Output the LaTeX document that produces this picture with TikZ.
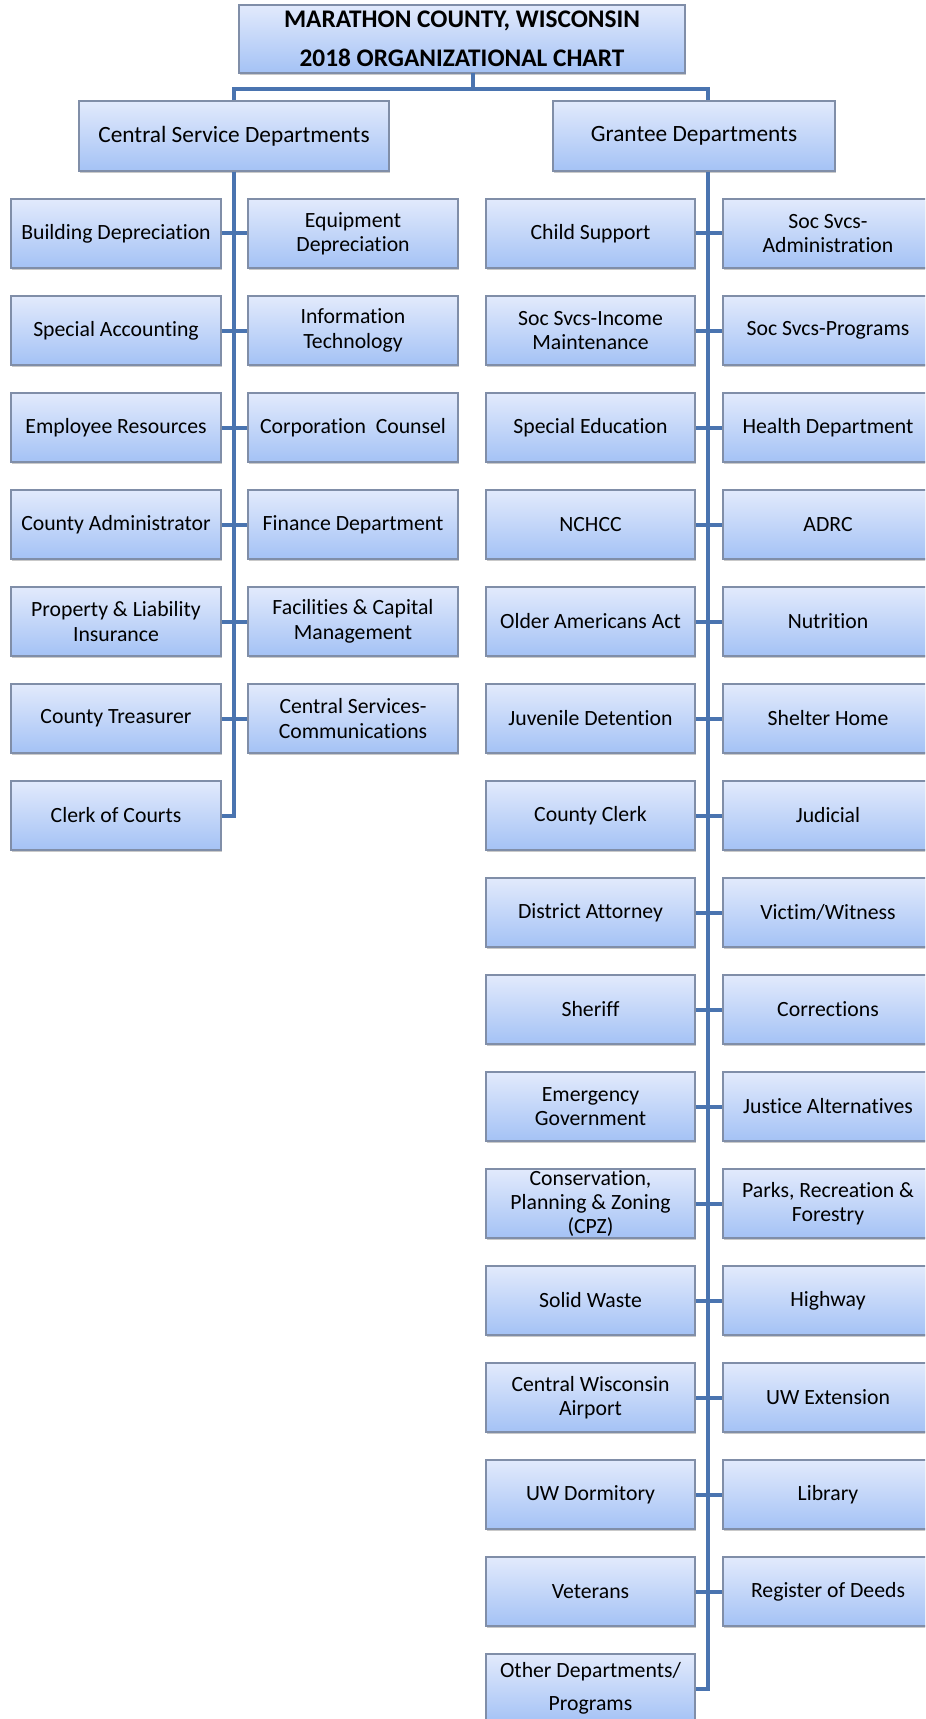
\documentclass[tikz,border=0pt]{standalone}
\usepackage{fontspec}
\setmainfont{Carlito}[Ligatures=NoCommon]
\usetikzlibrary{shadows}
\definecolor{conn}{RGB}{74,116,176}
\definecolor{boxtop}{RGB}{226,234,252}
\definecolor{boxbot}{RGB}{164,194,245}
\definecolor{boxline}{RGB}{128,142,168}
\begin{document}
\begin{tikzpicture}[x=0.75pt,y=-0.75pt,
  dept/.style={draw=boxline, line width=0.8pt, top color=boxtop, bottom color=boxbot,
    minimum width=157.5pt, minimum height=51.75pt, inner sep=0pt, align=center,
    font=\fontsize{16.3}{18.3}\selectfont,
    drop shadow={shadow xshift=0.8pt, shadow yshift=-1.6pt, opacity=0.3, fill=black!70}},
  gdept/.style={dept, minimum width=156.75pt},
  link/.style={draw=conn, line width=3pt}]
\clip (0,0) rectangle (925,1719);
% headers
\node[dept, minimum width=334.5pt, minimum height=51pt,
  font=\fontsize{19}{29}\bfseries\selectfont] (title) at (462,39)
  {MARATHON COUNTY, WISCONSIN\\2018 ORGANIZATIONAL CHART};
\node[dept, minimum width=232.5pt, minimum height=52.5pt, font=\fontsize{17.5}{20}\selectfont] (central) at (234,136) {Central Service Departments};
\node[dept, minimum width=211.5pt, minimum height=52.5pt, font=\fontsize{17.5}{20}\selectfont] (grantee) at (694,136) {Grantee Departments};
% central service departments
\node[dept] (a1) at (116,233.5) {Building Depreciation};
\node[dept] (b1) at (353,233.5) {Equipment\\Depreciation};
\node[dept] (a2) at (116,330.5) {Special Accounting};
\node[dept] (b2) at (353,330.5) {Information\\Technology};
\node[dept] (a3) at (116,427.5) {Employee Resources};
\node[dept] (b3) at (353,427.5) {Corporation\ \ Counsel};
\node[dept] (a4) at (116,524.5) {County Administrator};
\node[dept] (b4) at (353,524.5) {Finance Department};
\node[dept] (a5) at (116,621.5) {Property \& Liability\\Insurance};
\node[dept] (b5) at (353,621.5) {Facilities \& Capital\\Management};
\node[dept] (a6) at (116,718.5) {County Treasurer};
\node[dept] (b6) at (353,718.5) {Central Services-\\Communications};
\node[dept] (a7) at (116,815.5) {Clerk of Courts};
% grantee departments
\node[gdept] (g1l) at (590.5,233.5) {Child Support};
\node[dept]  (g1r) at (828,233.5) {Soc Svcs-\\Administration};
\node[gdept] (g2l) at (590.5,330.5) {Soc Svcs-Income\\Maintenance};
\node[dept]  (g2r) at (828,330.5) {Soc Svcs-Programs};
\node[gdept] (g3l) at (590.5,427.5) {Special Education};
\node[dept]  (g3r) at (828,427.5) {Health Department};
\node[gdept] (g4l) at (590.5,524.5) {NCHCC};
\node[dept]  (g4r) at (828,524.5) {ADRC};
\node[gdept] (g5l) at (590.5,621.5) {Older Americans Act};
\node[dept]  (g5r) at (828,621.5) {Nutrition};
\node[gdept] (g6l) at (590.5,718.5) {Juvenile Detention};
\node[dept]  (g6r) at (828,718.5) {Shelter Home};
\node[gdept] (g7l) at (590.5,815.5) {County Clerk};
\node[dept]  (g7r) at (828,815.5) {Judicial};
\node[gdept] (g8l) at (590.5,912.5) {District Attorney};
\node[dept]  (g8r) at (828,912.5) {Victim/Witness};
\node[gdept] (g9l) at (590.5,1009.5) {Sheriff};
\node[dept]  (g9r) at (828,1009.5) {Corrections};
\node[gdept] (g10l) at (590.5,1106.5) {Emergency\\Government};
\node[dept]  (g10r) at (828,1106.5) {Justice Alternatives};
\node[gdept] (g11l) at (590.5,1203.5) {Conservation,\\Planning \& Zoning\\(CPZ)};
\node[dept]  (g11r) at (828,1203.5) {Parks, Recreation \&\\Forestry};
\node[gdept] (g12l) at (590.5,1300.5) {Solid Waste};
\node[dept]  (g12r) at (828,1300.5) {Highway};
\node[gdept] (g13l) at (590.5,1397.5) {Central Wisconsin\\Airport};
\node[dept]  (g13r) at (828,1397.5) {UW Extension};
\node[gdept] (g14l) at (590.5,1494.5) {UW Dormitory};
\node[dept]  (g14r) at (828,1494.5) {Library};
\node[gdept] (g15l) at (590.5,1591.5) {Veterans};
\node[dept]  (g15r) at (828,1591.5) {Register of Deeds};
\node[gdept, font=\fontsize{16.3}{25}\selectfont] (g16l) at (590.5,1688.5) {Other Departments/\\Programs};
% connectors
\coordinate (tb) at (473,73);
\coordinate (tj) at (473,89);
\coordinate (cj) at (234,89);
\coordinate (gj) at (708,89);
\draw[link] (tb) -- (tj);
\draw[link] (central.north) |- (cj) -- (gj) -- (grantee.north -| gj);
\draw[link] (central.south) -- (central.south |- a7.east) -- (a7.east);
\draw[link] (grantee.south -| gj) -- (gj |- g16l.east) -- (g16l.east);
\foreach \i in {1,...,6}{\draw[link] (a\i.east) -- (b\i.west);}
\foreach \i in {1,...,15}{\draw[link] (g\i l.east) -- (g\i r.west);}
\end{tikzpicture}
\end{document}
